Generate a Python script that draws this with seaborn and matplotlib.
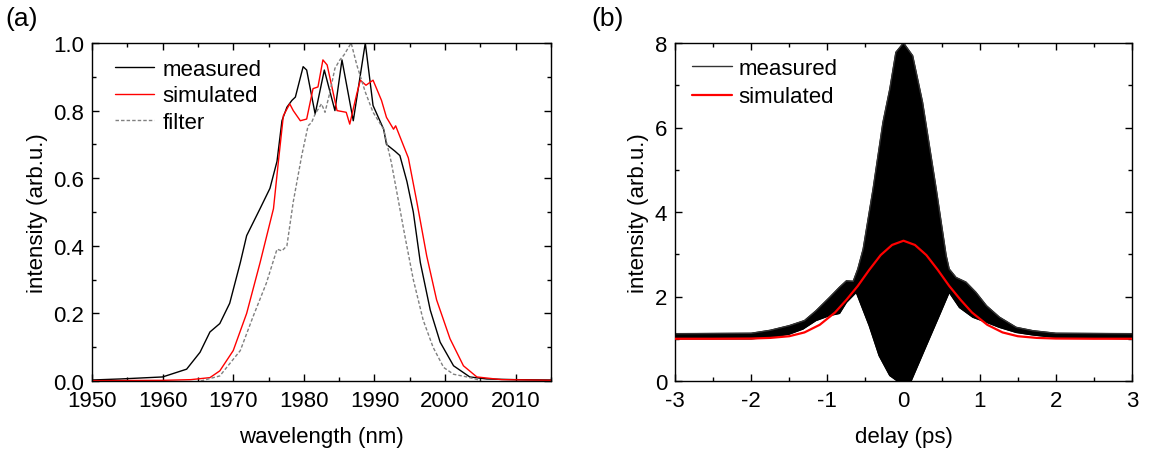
import numpy as np
import pandas as pd
import matplotlib
matplotlib.use("Agg")
import matplotlib.pyplot as plt
import seaborn as sns
from matplotlib.ticker import MultipleLocator, FormatStrFormatter

# ---------------- data ----------------
meas_wl = [1950, 1954, 1960, 1963.4, 1965.3, 1966.7, 1968.1, 1969.5, 1971, 1971.9,
           1973.8, 1975.2, 1976.2, 1976.9, 1977.6, 1978.3, 1978.8, 1979.9, 1980.4,
           1981.6, 1982.9, 1984.4, 1985.4, 1987.0, 1988.7, 1989.8, 1991.3, 1991.7,
           1992.9, 1993.6, 1994.6, 1995.5, 1996.5, 1997.9, 1999.3, 2001.2, 2003.5,
           2005.9, 2010, 2015]
meas_int = [0.003, 0.006, 0.012, 0.035, 0.085, 0.145, 0.17, 0.23, 0.35, 0.43,
            0.51, 0.57, 0.65, 0.77, 0.81, 0.83, 0.84, 0.93, 0.92,
            0.79, 0.92, 0.80, 0.95, 0.77, 1.0, 0.815, 0.745, 0.70,
            0.68, 0.667, 0.59, 0.50, 0.35, 0.21, 0.115, 0.045, 0.012,
            0.006, 0.004, 0.003]

sim_wl = [1950, 1960, 1964, 1966.7, 1968.1, 1970, 1971.9, 1973.8, 1975.7, 1976.4,
          1977.1, 1978, 1978.5, 1979.5, 1980.4, 1981.3, 1982, 1982.7, 1983.3,
          1984.7, 1986, 1986.5, 1987.5, 1988, 1988.8, 1989.8, 1991, 1991.7,
          1992.7, 1993, 1994.8, 1996, 1997.4, 1998.8, 2000.7, 2002.6, 2004.5,
          2008, 2015]
sim_int = [0.001, 0.002, 0.004, 0.01, 0.03, 0.09, 0.20, 0.35, 0.51, 0.65,
           0.785, 0.82, 0.80, 0.77, 0.775, 0.865, 0.87, 0.95, 0.935,
           0.80, 0.795, 0.76, 0.85, 0.89, 0.875, 0.89, 0.83, 0.78,
           0.745, 0.755, 0.66, 0.53, 0.37, 0.24, 0.125, 0.045, 0.012,
           0.004, 0.002]

filt_wl = [1965.4, 1968.1, 1971, 1972.8, 1974.7, 1976.2, 1976.9, 1977.6, 1978.5,
           1979.7, 1980.6, 1981.1, 1981.6, 1982.5, 1983.0, 1983.7, 1984.4, 1985.1,
           1985.7, 1986.7, 1987.5, 1988.7, 1989.8, 1991.3, 1992.4, 1993.2, 1994.3,
           1995.5, 1996.9, 1998.3, 1999.8, 2001.2, 2003.1, 2005]
filt_int = [0.0, 0.015, 0.09, 0.19, 0.29, 0.39, 0.385, 0.40, 0.53,
            0.667, 0.755, 0.765, 0.79, 0.82, 0.795, 0.855, 0.925, 0.95,
            0.965, 1.0, 0.935, 0.855, 0.795, 0.745, 0.645, 0.555, 0.43,
            0.30, 0.18, 0.10, 0.04, 0.02, 0.012, 0.002]

# autocorrelation: upper / lower envelope of the fringe-resolved trace
ac_up_t = [-3, -2, -1.75, -1.5, -1.3, -1.15, -0.97, -0.84, -0.75, -0.66, -0.6,
           -0.53, -0.4, -0.27, -0.18, -0.1, 0, 0.12, 0.25, 0.43, 0.56, 0.6, 0.69,
           0.82, 0.95, 1.09, 1.26, 1.48, 1.7, 2, 3]
ac_up = [1.12, 1.13, 1.2, 1.31, 1.43, 1.66, 1.98, 2.22, 2.37, 2.36, 2.65,
         3.12, 4.54, 6.12, 6.91, 7.78, 8.0, 7.7, 6.6, 4.54, 2.97, 2.65, 2.45,
         2.34, 2.10, 1.78, 1.51, 1.27, 1.19, 1.13, 1.12]
ac_lo_t = [-3, -2, -1.76, -1.5, -1.32, -1.15, -0.97, -0.84, -0.75, -0.62, -0.45,
           -0.32, -0.18, -0.08, 0, 0.1, 0.3, 0.47, 0.6, 0.735, 0.91, 1.09, 1.26,
           1.48, 1.7, 2, 3]
ac_lo = [1.0, 1.0, 1.03, 1.11, 1.23, 1.43, 1.55, 1.6, 1.86, 2.1, 1.31,
         0.6, 0.13, 0.0, 0.0, 0.0, 0.84, 1.55, 2.1, 1.74, 1.51, 1.39, 1.27,
         1.15, 1.09, 1.03, 1.0]

ac_sim_t = [-3, -2.5, -2, -1.75, -1.5, -1.3, -1.1, -0.9, -0.75, -0.6, -0.45, -0.3,
            -0.15, 0, 0.15, 0.3, 0.45, 0.6, 0.75, 0.9, 1.1, 1.3, 1.5, 1.75, 2, 2.5, 3]
ac_sim = [1.0, 1.0, 1.005, 1.02, 1.06, 1.15, 1.33, 1.62, 1.92, 2.25, 2.63, 2.98,
          3.22, 3.32, 3.22, 2.98, 2.63, 2.25, 1.92, 1.62, 1.33, 1.15, 1.06, 1.02,
          1.005, 1.0, 1.0]

# ---------------- style ----------------
sns.set_theme(style="ticks")
plt.rcParams["font.family"] = ["Liberation Sans", "DejaVu Sans"]
FS = 16
plt.rcParams.update({
    "font.size": FS,
    "axes.labelsize": FS,
    "xtick.labelsize": FS,
    "ytick.labelsize": FS,
    "legend.fontsize": FS,
    "axes.edgecolor": "black",
    "axes.linewidth": 1.0,
    "xtick.color": "black",
    "ytick.color": "black",
    "axes.labelcolor": "black",
    "text.color": "black",
    "axes.unicode_minus": False,
})

fig = plt.figure(figsize=(11.55, 4.52), dpi=100)
axA = fig.add_axes([92 / 1155, 1 - 382 / 452, 459 / 1155, 338 / 452])
axB = fig.add_axes([675 / 1155, 1 - 382 / 452, 457 / 1155, 338 / 452])

def style_ticks(ax):
    ax.tick_params(which="both", direction="in", top=True, right=True,
                   width=1.0, color="black")
    ax.tick_params(which="major", length=5)
    ax.tick_params(which="minor", length=3)
    ax.tick_params(axis="x", which="major", pad=6.5)
    ax.tick_params(axis="y", which="major", pad=5.5)
    for s in ax.spines.values():
        s.set_visible(True)
        s.set_color("black")

# ---------------- panel (a) ----------------
df_m = pd.DataFrame({"wl": meas_wl, "I": meas_int})
df_s = pd.DataFrame({"wl": sim_wl, "I": sim_int})
df_f = pd.DataFrame({"wl": filt_wl, "I": filt_int})
sns.lineplot(data=df_m, x="wl", y="I", ax=axA, color="black", lw=1.0,
             label="measured", sort=False)
sns.lineplot(data=df_s, x="wl", y="I", ax=axA, color="red", lw=1.0,
             label="simulated", sort=False)
sns.lineplot(data=df_f, x="wl", y="I", ax=axA, color="#808080", lw=1.0,
             label="filter", sort=False, linestyle=(0, (2.5, 1.5)))
axA.set_xlim(1950, 2015)
axA.set_ylim(0, 1.0)
axA.xaxis.set_major_locator(MultipleLocator(10))
axA.xaxis.set_minor_locator(MultipleLocator(5))
axA.yaxis.set_major_locator(MultipleLocator(0.2))
axA.yaxis.set_minor_locator(MultipleLocator(0.1))
axA.yaxis.set_major_formatter(FormatStrFormatter("%.1f"))
axA.set_xlabel("wavelength (nm)", labelpad=11)
axA.set_ylabel("intensity (arb.u.)", labelpad=4)
style_ticks(axA)
axA.legend(loc="upper left", bbox_to_anchor=(0.05, 0.953), frameon=False,
           borderpad=0, borderaxespad=0, handlelength=1.75, handletextpad=0.38,
           labelspacing=0.25)

# ---------------- panel (b) ----------------
poly_t = np.concatenate([ac_up_t, ac_lo_t[::-1]])
poly_v = np.concatenate([ac_up, ac_lo[::-1]])
axB.fill(poly_t, poly_v, color="black", lw=0.8, zorder=1)
df_up = pd.DataFrame({"t": ac_up_t, "I": ac_up})
df_lo = pd.DataFrame({"t": ac_lo_t, "I": ac_lo})
df_as = pd.DataFrame({"t": ac_sim_t, "I": ac_sim})
sns.lineplot(data=df_up, x="t", y="I", ax=axB, color="#333333", lw=1.0,
             label="measured", sort=False, zorder=2)
sns.lineplot(data=df_lo, x="t", y="I", ax=axB, color="black", lw=1.0,
             sort=False, zorder=2)
sns.lineplot(data=df_as, x="t", y="I", ax=axB, color="red", lw=1.6,
             label="simulated", sort=False, zorder=3)
axB.set_xlim(-3, 3)
axB.set_ylim(0, 8)
axB.xaxis.set_major_locator(MultipleLocator(1))
axB.xaxis.set_minor_locator(MultipleLocator(0.5))
axB.yaxis.set_major_locator(MultipleLocator(2))
axB.yaxis.set_minor_locator(MultipleLocator(1))
axB.set_xlabel("delay (ps)", labelpad=11)
axB.set_ylabel("intensity (arb.u.)", labelpad=4)
style_ticks(axB)
axB.legend(loc="upper left", bbox_to_anchor=(0.037, 0.955), frameon=False,
           borderpad=0, borderaxespad=0, handlelength=1.8, handletextpad=0.3,
           labelspacing=0.32)

fig.text(0.005, 0.985, "(a)", fontsize=19, va="top", ha="left")
fig.text(0.512, 0.985, "(b)", fontsize=19, va="top", ha="left")

fig.savefig("out.png", dpi=100)
